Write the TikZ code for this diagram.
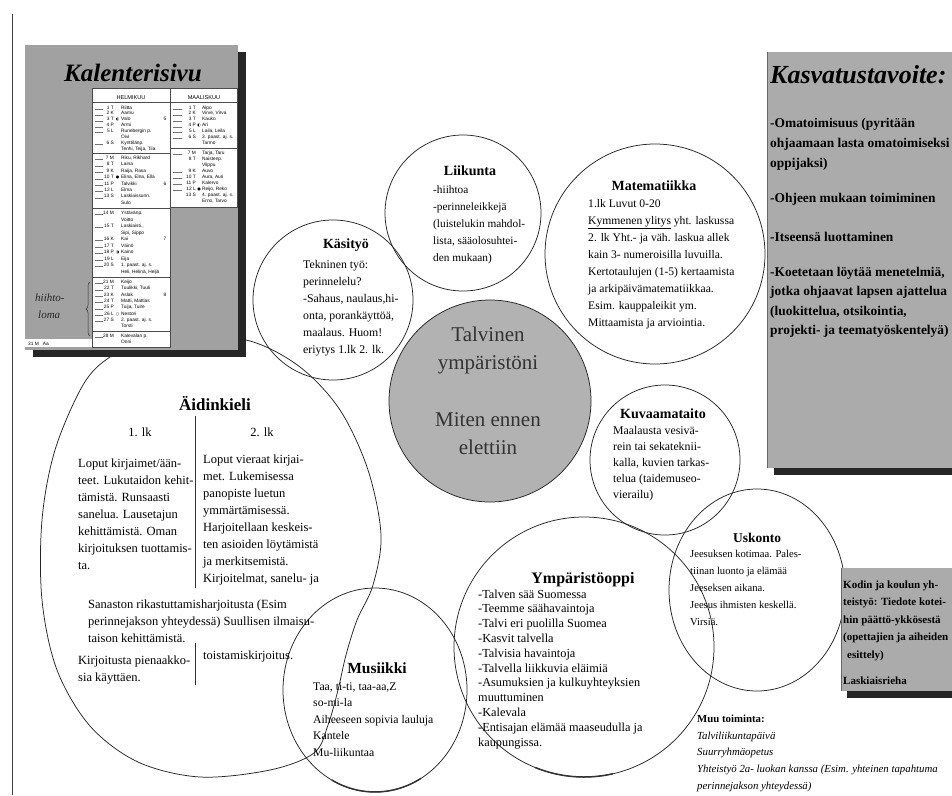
\documentclass[tikz,border=0pt]{standalone}
\usepackage{fontspec}
\setmainfont{Liberation Serif}
\newfontfamily\calfont{Liberation Sans}
\newfontfamily\symfont{DejaVu Sans}
\usetikzlibrary{shapes.geometric,decorations.pathreplacing}

% one node per printed line: prefix, style, x, first baseline, line step, lines
\newcommand\txtblock[6]{%
  \foreach \lntext [count=\k] in {#6}
    \node[txt,#2] (#1\k) at (#3,{#4+(\k-1)*#5}) {\lntext};}

\tikzset{
  ring/.style={draw=black!85, line width=0.75pt, inner sep=0pt},
  heavy/.style={draw=black!80, line width=1.5pt},
  txt/.style={inner sep=0pt, anchor=base west},
  ttl/.style={inner sep=0pt, anchor=base, font=\bfseries\fontsize{#1}{#1}\selectfont},
  ttl/.default=14,
  fs/.style={font=\fontsize{#1}{#1}\selectfont},
  fsb/.style={font=\bfseries\fontsize{#1}{#1}\selectfont},
  fsi/.style={font=\itshape\fontsize{#1}{#1}\selectfont},
  cal/.style={inner sep=0pt, font=\calfont\fontsize{4.8}{5}\selectfont},
  calrule/.style={draw=black!70, line width=0.4pt},
  panel/.style={fill=black!33},
  shadow/.style={fill=black!85},
}

\begin{document}
\begin{tikzpicture}[x=1pt,y=-1pt]
\useasboundingbox (0,0) rectangle (952,795);
\clip (0,0) rectangle (952,795);
\fill[white] (0,0) rectangle (952,795);

% page edge
\draw[black!75, line width=0.7pt] (12,14) -- (12,795);

% ---------------- subject rings ----------------
\draw[ring] plot[smooth cycle, tension=0.55] coordinates {
  (190,336) (250,341) (300,367) (340,410) (368,470) (381,535) (373,585)
  (357,620) (346,655) (338,690) (328,725) (314,753) (270,770) (200,777)
  (138,762) (90,726) (57,670) (42,600) (42,520) (55,450) (83,385)
  (110,357) (150,340)};

\node[ring, circle, fill=black!30, minimum size=202pt] (core) at (490,401) {};
\node[ring, circle, minimum size=160pt] (kasityo) at (333,300) {};
\node[ring, circle, minimum size=156pt] (liikunta) at (463,213) {};
\node[ring, circle, minimum size=220pt] (matikka) at (655,254) {};
\node[ring, circle, minimum size=150pt] (kuva) at (665,460) {};
\node[ring, ellipse, minimum width=176pt, minimum height=202pt] (usk) at (757,590) {};
\node[ring, circle, minimum size=260pt] (ymp) at (584,647) {};
\node[ring, ellipse, minimum width=184pt, minimum height=204pt] (musa) at (375,690) {};
% heavier pen strokes along the lower rims
\draw[heavy] (musa.center) ++(300:92pt and 102pt) arc[start angle=300, end angle=242, x radius=92pt, y radius=102pt];
\draw[heavy] (ymp.center) ++(283:130pt) arc[start angle=283, end angle=248, radius=130pt];

% ---------------- centre theme ----------------
\begin{scope}[every node/.style={inner sep=0pt, anchor=base, text=black!80, font=\fontsize{21}{21}\selectfont}]
\node (th1) at (488,341) {Talvinen};
\node (th2) at (488,369) {ympäristöni};
\node (th3) at (488,426) {Miten ennen};
\node (th4) at (488,454) {elettiin};
\end{scope}

% ---------------- Käsityö ----------------
\node[ttl=14] (kasT) at (346,248) {Käsityö};
\txtblock{kas}{fs=11.8}{303}{268}{17}{{Tekninen työ:},{perinnelelu?},{-Sahaus, naulaus,hi-},{onta, porankäyttöä,},{maalaus. Huom!},{eriytys 1.lk 2. lk.}}

% ---------------- Liikunta ----------------
\node[ttl=14] (liiT) at (470,175) {Liikunta};
\txtblock{lii}{fs=11.3}{433}{193}{17}{{-hiihtoa},{-perinneleikkejä},{(luistelukin mahdol-},{lista, sääolosuhtei-},{den mukaan)}}

% ---------------- Matematiikka ----------------
\node[ttl=14] (matT) at (654,190) {Matematiikka};
\txtblock{mat}{fs=11.6}{588}{207}{17}{{1.lk Luvut 0-20},{\underline{Kymmenen ylitys} yht. laskussa},{2. lk Yht.- ja väh. laskua allek},{kain 3- numeroisilla luvuilla.},{Kertotaulujen (1-5) kertaamista},{ja arkipäivämatematiikkaa.},{Esim. kauppaleikit ym.},{Mittaamista ja arviointia.}}

% ---------------- Kuvaamataito ----------------
\node[ttl=14] (kuvT) at (663,418) {Kuvaamataito};
\txtblock{kuv}{fs=11.8}{613}{434}{16}{{Maalausta vesivä-},{rein tai sekateknii-},{kalla, kuvien tarkas-},{telua (taidemuseo-},{vierailu)}}

% ---------------- Uskonto ----------------
\node[ttl=13.5] (uskT) at (757,542) {Uskonto};
\txtblock{usk}{fs=10.6}{690}{557}{17}{{Jeesuksen kotimaa. Pales-},{tiinan luonto ja elämää},{Jeeseksen aikana.},{Jeesus ihmisten keskellä.},{Virsiä.}}

% ---------------- Ympäristöoppi ----------------
\node[ttl=16] (ympT) at (583,583) {Ympäristöoppi};
\txtblock{ymp}{fs=12.3}{478}{598}{14.8}{{-Talven sää Suomessa},{-Teemme säähavaintoja},{-Talvi eri puolilla Suomea},{-Kasvit talvella},{-Talvisia havaintoja},{-Talvella liikkuvia eläimiä},{-Asumuksien ja kulkuyhteyksien},{muuttuminen},{-Kalevala},{-Entisajan elämää maaseudulla ja},{kaupungissa.}}

% ---------------- Musiikki ----------------
\node[ttl=15.5] (musT) at (377,673) {Musiikki};
\txtblock{mus}{fs=11.7}{313}{690}{16.5}{{Taa, ti-ti, taa-aa,Z},{so-mi-la},{Aiheeseen sopivia lauluja},{Kantele},{Mu-liikuntaa}}

% ---------------- Äidinkieli ----------------
\node[ttl=17] (aidT) at (215,410) {Äidinkieli};
\node[inner sep=0pt, anchor=base, fs=12.5] (lk1) at (140,436) {1. lk};
\node[inner sep=0pt, anchor=base, fs=12.5] (lk2) at (262,436) {2. lk};
\draw[black!80, line width=0.7pt] (195,416) -- (195,588);
\draw[black!80, line width=0.7pt] (195,643) -- (195,685);
\txtblock{aidA}{fs=12.5}{78}{467}{17}{{Loput kirjaimet/ään-},{teet. Lukutaidon kehit-},{tämistä. Runsaasti},{sanelua. Lausetajun},{kehittämistä. Oman},{kirjoituksen tuottamis-},{ta.}}
\txtblock{aidB}{fs=12.5}{203}{463}{17.1}{{Loput vieraat kirjai-},{met. Lukemisessa},{panopiste luetun},{ymmärtämisessä.},{Harjoitellaan keskeis-},{ten asioiden löytämistä},{ja merkitsemistä.},{Kirjoitelmat, sanelu- ja}}
\txtblock{aidC}{fs=12.5}{88}{608}{17}{{Sanaston rikastuttamisharjoitusta (Esim},{perinnejakson yhteydessä) Suullisen ilmaisu-},{taison kehittämistä.}}
\txtblock{aidD}{fs=12.5}{78}{664}{17}{{Kirjoitusta pienaakko-},{sia käyttäen.}}
\node[txt, fs=12.5] (aidE) at (203,659) {toistamiskirjoitus.};

% ---------------- Muu toiminta ----------------
\node[txt, fsb=10.8] (muuT) at (697,722) {Muu toiminta:};
\txtblock{muu}{fsi=10.8}{697}{739}{16.7}{{Talviliikuntapäivä},{Suurryhmäopetus},{Yhteistyö 2a- luokan kanssa (Esim. yhteinen tapahtuma},{perinnejakson yhteydessä)}}

% ---------------- calendar page ----------------
\fill[shadow] (33,52) rectangle (246,357);
\fill[black!37] (25,45) rectangle (238,350);
\fill[white] (92,88) rectangle (170,347);
\fill[white] (170,88) rectangle (237,207);
\fill[white] (25,339) rectangle (92,347);
\draw[calrule] (92,88) -- (237,88) -- (237,207) -- (170,207);
\draw[calrule] (92,88) -- (92,347) -- (170,347) -- (170,88);
\draw[calrule] (92,102.5) -- (237,102.5);
\foreach \yy in {153,208,277,331} \draw[calrule] (92,\yy) -- (170,\yy);
\draw[calrule] (170,148) -- (237,148);
\node[inner sep=0pt, anchor=base west, font=\bfseries\itshape\fontsize{25}{25}\selectfont] (calT) at (64,81) {Kalenterisivu};
\node[cal, anchor=base, font=\calfont\fontsize{5.6}{6}\selectfont] (feb) at (131,99) {HELMIKUU};
\node[cal, anchor=base, font=\calfont\fontsize{5.6}{6}\selectfont] (mar) at (204,99) {MAALISKUU};

% February column: baseline / day / name
\foreach \yy/\dd/\nn [count=\c] in {
  109/1 T/Riitta, 114.9/2 K/Aamu, 120.8/3 T/Valo, 126.7/4 P/Armi,
  132.6/5 L/Runebergin p., 138.5//Oivi, 144.4/6 S/Kynttilänp., 150.3//{Tenhi, Teija, Tiia},
  159.5/7 M/{Riku, Rikhard}, 165.9/8 T/Laina, 172.3/9 K/{Raija, Rasa}, 178.7/10 T/{Elina, Elna, Ella},
  185.1/11 P/Talvikki, 191.5/12 L/Elma, 197.9/13 S/Laskiaissunn., 204.3//Sulo,
  214.5/14 M/Ystävänp., 221//Voitto, 227.5/15 T/{Laskiaisti.,}, 234//{Sipi, Sippo},
  240.5/16 K/Kai, 247/17 T/Väinö, 253.5/18 P/Kaino, 260/19 L/Eija,
  266.5/20 S/{1. paast. aj. s.}, 273//{Heli, Helinä, Heljä},
  283.5/21 M/Keijo, 289.8/22 T/{Tuulikki, Tuuli}, 296.1/23 K/Aslak, 302.4/24 T/{Matti, Mattias},
  308.7/25 P/{Tuija, Tuire}, 315/26 L/Nestori, 321.3/27 S/{2. paast. aj. s.}, 327.6//Torsti,
  337/28 M/Kalevalan p., 343//Onni}
{
  \node[cal, anchor=base east] (fd\c) at (114,\yy) {\dd};
  \node[cal, anchor=base west] (fn\c) at (121,\yy) {\nn};
}
\foreach \yy in {109,114.9,120.8,126.7,132.6,144.4,159.5,165.9,172.3,178.7,185.1,191.5,197.9,
  214.5,227.5,240.5,247,253.5,260,266.5,283.5,289.8,296.1,302.4,308.7,315,321.3,337}
  \draw[black!55, line width=0.3pt] (95,\yy) -- (103,\yy);
% March column
\foreach \yy/\dd/\nn [count=\c] in {
  109/1 T/Alpo, 114.9/2 K/{Virve, Virva}, 120.8/3 T/Kauko, 126.7/4 P/Ari,
  132.6/5 L/{Laila, Leila}, 138.5/6 S/{3. paast. aj. s.}, 144.4//Tarmo,
  154/7 M/{Tarja, Taru}, 160/8 T/Naistenp., 166//Vilppu, 172/9 K/Auvo,
  178/10 T/{Aura, Auri}, 184/11 P/Kalervo, 190/12 L/{Reijo, Reko},
  196/13 S/{4. paast. aj. s.}, 202//{Erno, Tarvo}}
{
  \node[cal, anchor=base east] (md\c) at (196,\yy) {\dd};
  \node[cal, anchor=base west] (mn\c) at (202,\yy) {\nn};
}
\foreach \yy in {109,114.9,120.8,126.7,132.6,138.5,154,172,178,184,190}
  \draw[black!55, line width=0.3pt] (173,\yy) -- (182,\yy);
% moon phases and week numbers
\begin{scope}[every node/.style={inner sep=0pt, anchor=base, font=\symfont\fontsize{4}{4}\selectfont}]
\node (m1) at (117.5,120.8) {◐};
\node (m2) at (117.5,178.7) {●};
\node (m3) at (117.5,253.5) {◑};
\node (m4) at (117.5,315) {○};
\node (m5) at (199,126.7) {◐};
\node (m6) at (199,190) {●};
\end{scope}
\node[cal, anchor=base] (w5) at (165,120.8) {5};
\node[cal, anchor=base] (w6) at (165,185.1) {6};
\node[cal, anchor=base] (w7) at (165,240.5) {7};
\node[cal, anchor=base] (w8) at (165,296.1) {8};
\node[cal, anchor=base west] (m31) at (28,345) {31 M \ \ Aa};
% winter holiday note
\node[inner sep=0pt, anchor=base west, text=black!85, font=\itshape\fontsize{11}{11}\selectfont] (hl1) at (35,301) {hiihto-};
\node[inner sep=0pt, anchor=base west, text=black!85, font=\itshape\fontsize{11}{11}\selectfont] (hl2) at (38,318) {loma};
\draw[black!80, line width=0.5pt, decorate, decoration={brace, amplitude=4pt}] (90,336) -- (90,282);

% ---------------- goals panel ----------------
\fill[shadow] (774,468) rectangle (960,475);
\fill[panel] (767,52) rectangle (960,468);
\draw[black!60, line width=0.5pt] (767,52) -- (767,468);
\node[inner sep=0pt, anchor=base west, font=\bfseries\itshape\fontsize{26}{26}\selectfont] (kasvT) at (770,83) {Kasvatustavoite:};
\txtblock{kv}{fsb=13.4}{770}{127}{20}{{-Omatoimisuus (pyritään},{ohjaamaan lasta omatoimiseksi},{oppijaksi)}}
\node[txt, fsb=13.4] (kv4) at (770,202) {-Ohjeen mukaan toimiminen};
\node[txt, fsb=13.4] (kv5) at (770,241) {-Itseensä luottaminen};
\txtblock{kw}{fsb=13.4}{770}{276}{19.5}{{-Koetetaan löytää menetelmiä,},{jotka ohjaavat lapsen ajattelua},{(luokittelua, otsikointia,},{projekti- ja teematyöskentelyä)}}

% ---------------- home and school panel ----------------
\fill[shadow] (847,691) rectangle (960,698);
\fill[panel] (841,568) rectangle (960,691);
\draw[black!60, line width=0.5pt] (841,568) -- (841,691);
\txtblock{kk}{fsb=11}{843}{588}{17.5}{{Kodin ja koulun yh-},{teistyö: Tiedote kotei-},{hin päättö-ykkösestä},{(opettajien ja aiheiden}}
\node[txt, fsb=11] (kk5) at (847,658) {esittely)};
\node[txt, fsb=11] (kk6) at (843,684) {Laskiaisrieha};
\end{tikzpicture}
\end{document}
